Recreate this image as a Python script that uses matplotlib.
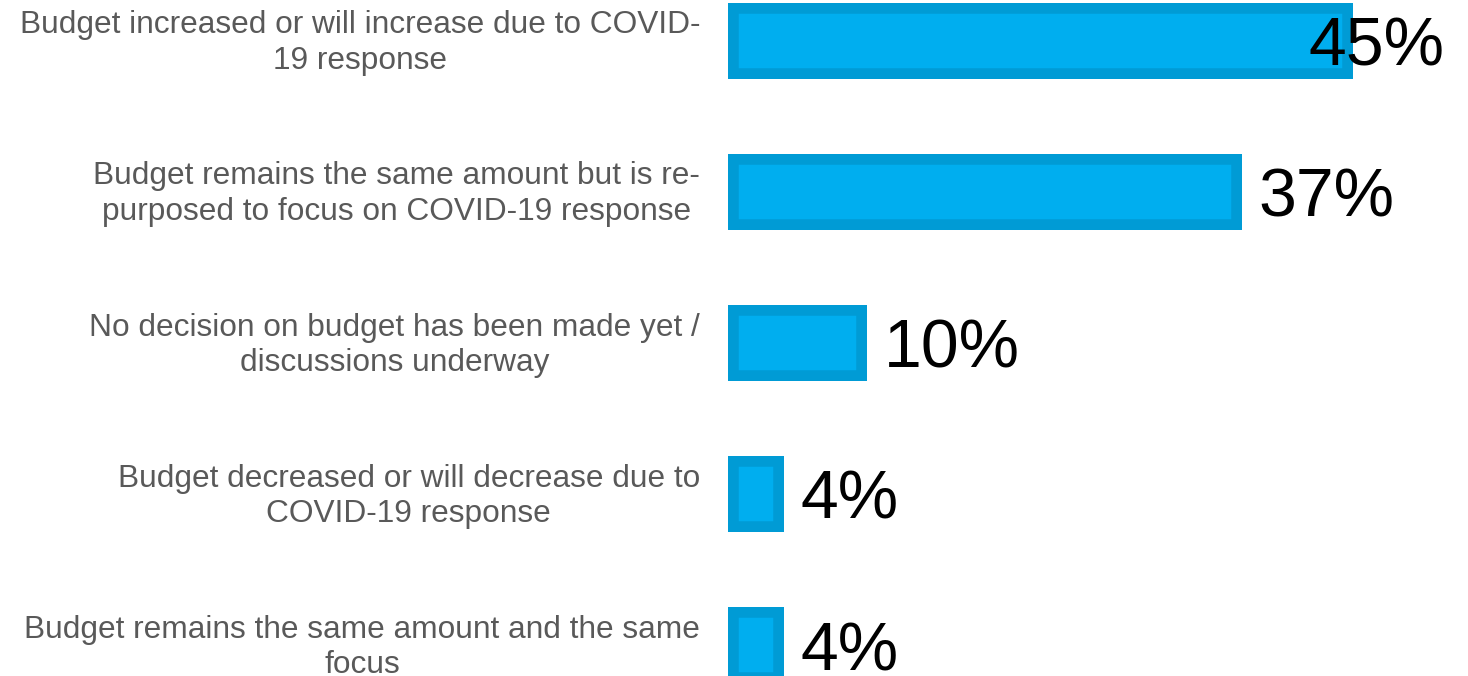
import matplotlib.pyplot as plt
from matplotlib.transforms import ScaledTranslation

plt.rcParams['font.family'] = ['Liberation Sans', 'DejaVu Sans']

# Survey answers and shares (%)
categories = [
    'Budget increased or will increase due to COVID-\n19 response',
    'Budget remains the same amount but is re-\npurposed to focus on COVID-19 response',
    'No decision on budget has been made yet /\ndiscussions underway',
    'Budget decreased or will decrease due to\nCOVID-19 response',
    'Budget remains the same amount and the same\nfocus',
]
values = [45, 37, 10, 4, 4]
value_labels = ['45%', '37%', '10%', '4%', '4%']

fill_color = '#00AEEF'
edge_color = '#009BD5'
xmax = 51.6

fig = plt.figure(figsize=(14.68, 6.76), dpi=100)
ax = fig.add_axes([728 / 1468, 0, (1445 - 728) / 1468, 1])

ypos = list(range(len(categories)))
bars = ax.barh(ypos, values, height=0.5, color=fill_color,
               edgecolor=edge_color, linewidth=15.5)
# keep the border inside the bar
for b in bars:
    b.set_clip_path(b)

for y, v, lab in zip(ypos, values, value_labels):
    x = v + 1.2
    if x + 10 > xmax:
        ax.text(xmax, y, lab, ha='right', va='center_baseline',
                fontsize=49, color='black')
    else:
        ax.text(x, y, lab, ha='left', va='center_baseline',
                fontsize=49, color='black')

# category labels left of the bars
lab_trans = ax.get_yaxis_transform() + ScaledTranslation(-0.28, -0.025, fig.dpi_scale_trans)
for y, cat in zip(ypos, categories):
    ax.text(0, y, cat, transform=lab_trans, ha='right', va='center',
            multialignment='center', linespacing=1.25,
            fontsize=22.8, color='#595959', clip_on=False)

ax.set_xlim(0, xmax)
ax.set_ylim(4.205, -0.27)
ax.set_xticks([])
ax.set_yticks([])
for s in ax.spines.values():
    s.set_visible(False)

fig.savefig('out.png', dpi=100)
